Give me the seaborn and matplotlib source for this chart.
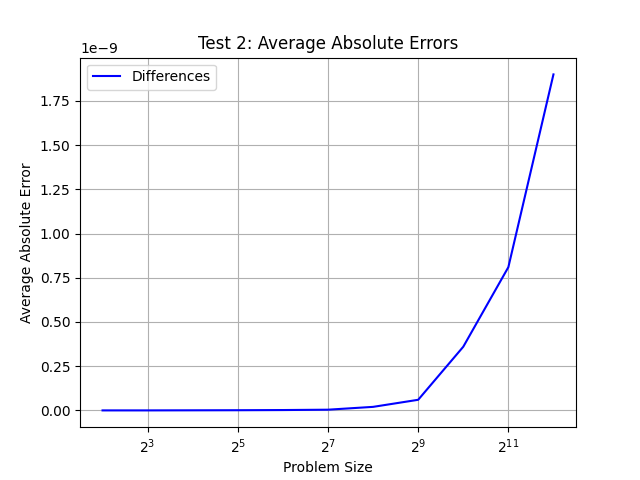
import numpy as np
import pandas as pd
import seaborn as sns
import matplotlib
matplotlib.use("Agg")
import matplotlib.pyplot as plt
from matplotlib.ticker import LogLocator, LogFormatterMathtext

sizes = [4, 8, 16, 32, 64, 128, 256, 512, 1024, 2048, 4096]
errors = [0.0, 0.0, 0.0005e-9, 0.001e-9, 0.002e-9, 0.004e-9, 0.02e-9, 0.06e-9, 0.36e-9, 0.81e-9, 1.90e-9]

df = pd.DataFrame({"Problem Size": sizes, "Average Absolute Error": errors})

fig, ax = plt.subplots(figsize=(6.4, 4.8), dpi=100)
sns.lineplot(data=df, x="Problem Size", y="Average Absolute Error", color="blue",
             label="Differences", ax=ax)
ax.set_xscale("log", base=2)
ax.xaxis.set_major_locator(LogLocator(base=2, subs=[2.0], numticks=20))
ax.xaxis.set_major_formatter(LogFormatterMathtext(base=2))
ax.xaxis.set_minor_locator(matplotlib.ticker.NullLocator())
ax.set_xticks([8, 32, 128, 512, 2048])
ax.grid(True)
ax.set_title("Test 2: Average Absolute Errors")
ax.legend(loc="upper left")
fig.savefig("out.png")
